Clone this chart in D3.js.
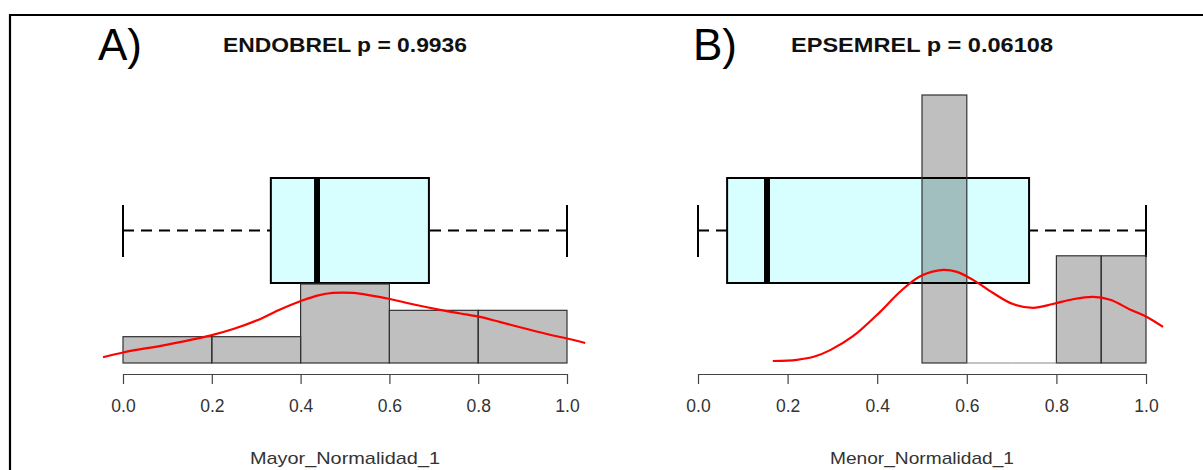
<!DOCTYPE html>
<html>
<head>
<meta charset="utf-8">
<script src="https://cdn.jsdelivr.net/npm/d3@7"></script>
<style>
  body { margin: 0; background: #fff; }
  svg { display: block; font-family: "Liberation Sans", Arial, sans-serif; }
  .axis path, .axis line { stroke: #444; stroke-width: 1.2; }
  .axis text { fill: #333; font-size: 17.5px; }
</style>
</head>
<body>
<div class="wrapper"></div>
<script>
// data
var ticks = [0, 0.2, 0.4, 0.6, 0.8, 1.0];

var binsA = [0, 0.2, 0.4, 0.6, 0.8, 1.0];
var countsA = [1, 1, 3, 2, 2];
var boxA = { min: 0, q1: 0.333, med: 0.437, q3: 0.689, max: 1 };
var densA = [[-0.045, 0.22], [0, 0.4], [0.1, 0.7], [0.196, 1.04], [0.25, 1.3], [0.302, 1.62],
  [0.35, 2.0], [0.405, 2.38], [0.44, 2.57], [0.473, 2.66], [0.518, 2.66], [0.56, 2.56], [0.601, 2.43],
  [0.65, 2.24], [0.714, 2.02], [0.76, 1.88], [0.804, 1.75], [0.85, 1.55], [0.901, 1.33],
  [0.95, 1.12], [1.0, 0.93], [1.041, 0.76]];

var binsB = [0.5, 0.6, 0.7, 0.8, 0.9, 1.0];
var countsB = [5, 0, 0, 2, 2];
var boxB = { min: 0, q1: 0.065, med: 0.154, q3: 0.739, max: 1 };
var densB = [[0.167, 0.037], [0.221, 0.06], [0.26, 0.12], [0.295, 0.24], [0.346, 0.5], [0.406, 0.95],
  [0.451, 1.33], [0.496, 1.62], [0.547, 1.738], [0.578, 1.70], [0.614, 1.55], [0.658, 1.31],
  [0.703, 1.1], [0.748, 1.03], [0.792, 1.1], [0.837, 1.19], [0.882, 1.234], [0.92, 1.18],
  [0.964, 1.0], [1.002, 0.86], [1.038, 0.673]];

var width = 1203, height = 470;
var svg = d3.select(".wrapper").append("svg")
  .attr("width", width)
  .attr("height", height);

// outer frame (top and left only visible)
svg.append("path")
  .attr("d", "M10,470 V15 H1203")
  .attr("fill", "none")
  .attr("stroke", "#000")
  .attr("stroke-width", 2.2);

var base = 363, boxTop = 178, boxBot = 283, capTop = 205, capBot = 257;

function panel(opt) {
  var x = d3.scaleLinear().domain([0, 1]).range(opt.range);
  var y = d3.scaleLinear().domain([0, opt.ymax]).range([base, opt.ytop]);
  var g = svg.append("g");
  var b = opt.box, mid = (boxTop + boxBot) / 2;

  // whiskers, drawn from the ends toward the box
  g.selectAll(".whisk")
    .data([[b.min, b.q1], [b.max, b.q3]])
    .enter().append("line")
      .attr("x1", function(d) { return x(d[0]); })
      .attr("x2", function(d) { return x(d[1]); })
      .attr("y1", mid).attr("y2", mid)
      .attr("stroke", "#000")
      .attr("stroke-width", 2)
      .attr("stroke-dasharray", "11,7");
  g.selectAll(".cap")
    .data([b.min, b.max])
    .enter().append("line")
      .attr("x1", function(d) { return x(d); })
      .attr("x2", function(d) { return x(d); })
      .attr("y1", capTop).attr("y2", capBot)
      .attr("stroke", "#000")
      .attr("stroke-width", 2);

  g.append("rect")
    .attr("x", x(b.q1))
    .attr("width", x(b.q3) - x(b.q1))
    .attr("y", boxTop)
    .attr("height", boxBot - boxTop)
    .attr("fill", "#d8ffff")
    .attr("stroke", "#000")
    .attr("stroke-width", 2);
  g.append("line")
    .attr("x1", x(b.med)).attr("x2", x(b.med))
    .attr("y1", boxTop).attr("y2", boxBot)
    .attr("stroke", "#000")
    .attr("stroke-width", 6);

  // histogram (empty bins show as a line on the base)
  var bars = opt.counts.map(function(c, i) { return { c: c, x0: opt.bins[i], x1: opt.bins[i + 1] }; });
  g.selectAll(".bar")
    .data(bars.filter(function(d) { return d.c > 0; }))
    .enter().append("rect")
      .attr("x", function(d) { return x(d.x0); })
      .attr("width", function(d) { return x(d.x1) - x(d.x0); })
      .attr("y", function(d) { return y(d.c); })
      .attr("height", function(d) { return base - y(d.c); })
      .attr("fill", "rgba(0,0,0,0.25)")
      .attr("stroke", "#333")
      .attr("stroke-width", 1.2);
  g.selectAll(".empty")
    .data(bars.filter(function(d) { return d.c == 0; }))
    .enter().append("line")
      .attr("x1", function(d) { return x(d.x0); })
      .attr("x2", function(d) { return x(d.x1); })
      .attr("y1", base).attr("y2", base)
      .attr("stroke", "#888")
      .attr("stroke-width", 1.2);

  // density curve
  var line = d3.line()
    .x(function(d) { return x(d[0]); })
    .y(function(d) { return y(d[1]); })
    .curve(d3.curveCatmullRom);
  g.append("path")
    .datum(opt.dens)
    .attr("d", line)
    .attr("fill", "none")
    .attr("stroke", "#ff0000")
    .attr("stroke-width", 2.2);

  // axis
  g.append("g")
    .attr("class", "axis")
    .attr("transform", "translate(0,374)")
    .call(d3.axisBottom(x).tickValues(ticks).tickFormat(d3.format(".1f"))
      .tickSize(10).tickSizeOuter(0).tickPadding(16));

  var cx = (opt.range[0] + opt.range[1]) / 2;
  g.append("text")
    .attr("x", cx).attr("y", 464)
    .attr("text-anchor", "middle")
    .attr("font-size", 17)
    .attr("textLength", opt.xlabLen)
    .attr("lengthAdjust", "spacingAndGlyphs")
    .attr("fill", "#333")
    .text(opt.xlab);

  g.append("text")
    .attr("x", cx).attr("y", 52)
    .attr("text-anchor", "middle")
    .attr("font-size", 21)
    .attr("font-weight", "bold")
    .attr("textLength", opt.titleLen)
    .attr("lengthAdjust", "spacingAndGlyphs")
    .attr("fill", "#111")
    .text(opt.title);

  g.append("text")
    .attr("x", opt.labelX).attr("y", 60)
    .attr("font-size", 44)
    .attr("fill", "#000")
    .text(opt.label);
}

panel({ range: [123, 567], ymax: 3, ytop: 284, bins: binsA, counts: countsA, box: boxA, dens: densA,
  title: "ENDOBREL p = 0.9936", titleLen: 244, xlab: "Mayor_Normalidad_1", xlabLen: 190, label: "A)", labelX: 98 });
panel({ range: [698, 1146], ymax: 5, ytop: 95, bins: binsB, counts: countsB, box: boxB, dens: densB,
  title: "EPSEMREL p = 0.06108", titleLen: 262, xlab: "Menor_Normalidad_1", xlabLen: 184, label: "B)", labelX: 693 });
</script>
</body>
</html>
